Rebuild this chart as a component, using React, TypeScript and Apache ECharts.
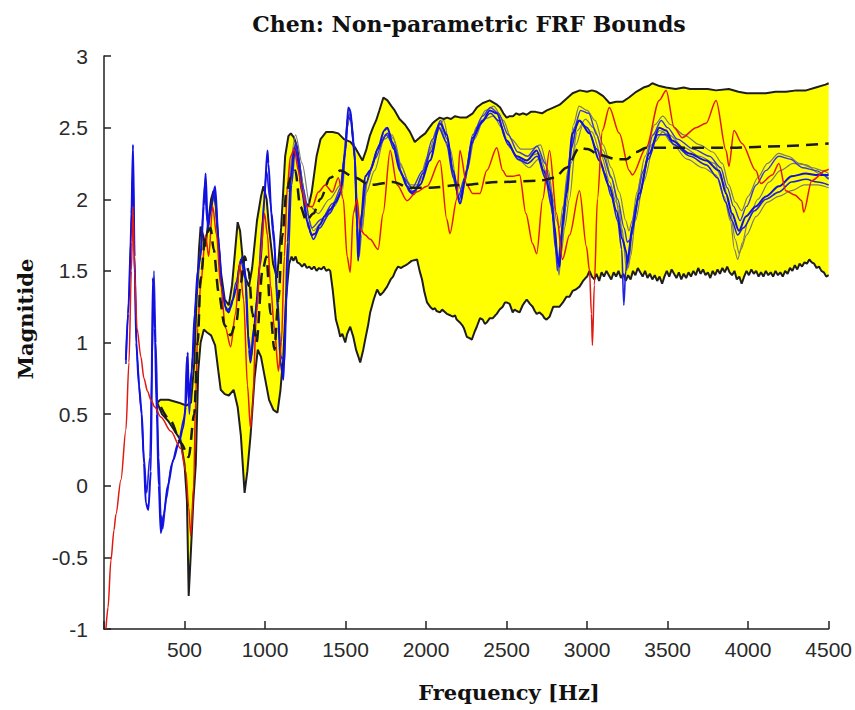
import React, { useEffect, useRef } from "react";
import * as echarts from "echarts";

type P = [number, number];

const titleText = "Chen: Non-parametric FRF Bounds";
const xName = "Frequency [Hz]";
const yName = "Magnitide";
const xTicks = [500, 1000, 1500, 2000, 2500, 3000, 3500, 4000, 4500];

const upperBound: P[] = [
  [330, 0.58], [350, 0.6], [400, 0.6], [465, 0.58], [510, 0.56], [540, 0.58], [560, 0.85], [575, 1.3], [590, 1.65],
  [600, 1.81], [615, 1.75], [630, 1.67], [645, 1.82], [665, 2.0], [680, 2.06], [695, 1.95], [710, 1.7], [725, 1.5],
  [750, 1.3], [775, 1.26], [795, 1.4], [815, 1.65], [830, 1.84], [845, 1.78], [860, 1.6], [880, 1.45], [900, 1.39],
  [920, 1.52], [950, 1.85], [975, 2.02], [990, 2.09], [1010, 2.0], [1025, 1.8], [1050, 1.55], [1075, 1.45], [1100, 1.8],
  [1125, 2.3], [1145, 2.44], [1160, 2.46], [1180, 2.43], [1200, 2.36], [1225, 2.15], [1250, 1.98], [1270, 1.95],
  [1290, 2.05], [1320, 2.3], [1345, 2.42], [1380, 2.47], [1420, 2.47], [1455, 2.46], [1490, 2.42], [1530, 2.4],
  [1560, 2.36], [1590, 2.3], [1605, 2.27], [1630, 2.35], [1650, 2.44], [1670, 2.5], [1690, 2.55], [1710, 2.62],
  [1735, 2.71], [1760, 2.69], [1785, 2.65], [1805, 2.62], [1835, 2.56], [1870, 2.52], [1900, 2.47], [1930, 2.4],
  [1960, 2.43], [1995, 2.46], [2020, 2.5], [2040, 2.53], [2060, 2.55], [2085, 2.57], [2110, 2.56], [2130, 2.57],
  [2155, 2.56], [2180, 2.58], [2215, 2.57], [2250, 2.57], [2290, 2.6], [2315, 2.64], [2350, 2.67], [2395, 2.69],
  [2440, 2.66], [2460, 2.64], [2480, 2.6], [2500, 2.57], [2520, 2.58], [2540, 2.58], [2560, 2.6], [2580, 2.59],
  [2600, 2.6], [2625, 2.59], [2650, 2.61], [2680, 2.61], [2720, 2.6], [2750, 2.62], [2790, 2.64], [2830, 2.66],
  [2870, 2.7], [2910, 2.74], [2955, 2.76], [3000, 2.75], [3030, 2.76], [3060, 2.75], [3100, 2.72], [3140, 2.67],
  [3180, 2.68], [3220, 2.68], [3260, 2.71], [3305, 2.75], [3350, 2.78], [3380, 2.79], [3405, 2.81], [3450, 2.79],
  [3490, 2.78], [3550, 2.77], [3600, 2.78], [3640, 2.77], [3680, 2.77], [3750, 2.77], [3800, 2.76], [3880, 2.77],
  [3940, 2.75], [3990, 2.74], [4050, 2.74], [4110, 2.74], [4170, 2.75], [4235, 2.75], [4300, 2.76], [4360, 2.76],
  [4420, 2.78], [4480, 2.8], [4500, 2.81],
];

const lowerBound: P[] = [
  [330, 0.58], [360, 0.5], [400, 0.45], [440, 0.38], [475, 0.32], [500, 0.15], [515, -0.1], [526, -0.77], [540, -0.45],
  [555, -0.1], [570, 0.15], [585, 0.8], [600, 1.0], [620, 1.09], [640, 1.07], [665, 1.05], [690, 0.98], [710, 0.8],
  [725, 0.67], [750, 0.64], [775, 0.63], [805, 0.67], [830, 0.55], [850, 0.35], [873, -0.05], [890, 0.1], [910, 0.35],
  [935, 0.75], [955, 0.95], [975, 0.9], [1000, 0.75], [1025, 0.6], [1052, 0.53], [1077, 0.51], [1096, 0.67],
  [1114, 0.91], [1130, 1.3], [1150, 1.55], [1165, 1.6], [1176, 1.57], [1190, 1.6], [1200, 1.56], [1215, 1.55],
  [1230, 1.53], [1245, 1.55], [1260, 1.52], [1275, 1.53], [1290, 1.51], [1305, 1.53], [1320, 1.5], [1335, 1.52],
  [1350, 1.51], [1365, 1.53], [1380, 1.5], [1395, 1.51], [1405, 1.5], [1420, 1.37], [1440, 1.16], [1455, 1.1],
  [1467, 1.04], [1480, 1.06], [1498, 1.0], [1510, 1.06], [1529, 1.11], [1548, 1.04], [1565, 0.95], [1580, 0.9],
  [1591, 0.86], [1610, 0.95], [1622, 1.02], [1640, 1.12], [1653, 1.21], [1675, 1.3], [1696, 1.37], [1715, 1.33],
  [1733, 1.35], [1758, 1.39], [1780, 1.44], [1795, 1.46], [1810, 1.5], [1826, 1.53], [1845, 1.52], [1857, 1.53],
  [1875, 1.54], [1888, 1.55], [1910, 1.57], [1944, 1.58], [1960, 1.5], [1975, 1.44], [1990, 1.35], [2006, 1.28],
  [2025, 1.25], [2043, 1.23], [2055, 1.24], [2065, 1.22], [2086, 1.21], [2100, 1.23], [2110, 1.22], [2129, 1.2],
  [2150, 1.19], [2167, 1.18], [2180, 1.19], [2190, 1.16], [2210, 1.14], [2225, 1.12], [2235, 1.1], [2253, 1.04],
  [2270, 1.03], [2284, 1.02], [2300, 1.07], [2315, 1.11], [2335, 1.17], [2352, 1.16], [2365, 1.13], [2377, 1.14],
  [2396, 1.17], [2415, 1.17], [2430, 1.19], [2439, 1.2], [2457, 1.23], [2476, 1.25], [2490, 1.28], [2500, 1.28],
  [2519, 1.27], [2538, 1.21], [2550, 1.23], [2563, 1.22], [2581, 1.21], [2600, 1.26], [2612, 1.28], [2625, 1.3],
  [2645, 1.27], [2662, 1.25], [2675, 1.22], [2687, 1.2], [2705, 1.21], [2724, 1.19], [2735, 1.17], [2748, 1.16],
  [2767, 1.18], [2790, 1.25], [2810, 1.25], [2829, 1.25], [2850, 1.28], [2872, 1.32], [2891, 1.32], [2910, 1.36],
  [2930, 1.37], [2953, 1.39], [2975, 1.43], [2990, 1.45], [3000, 1.46], [3015, 1.5], [3030, 1.46], [3045, 1.44],
  [3058, 1.48], [3075, 1.43], [3090, 1.49], [3105, 1.46], [3120, 1.5], [3135, 1.47], [3150, 1.44], [3165, 1.49],
  [3180, 1.46], [3195, 1.5], [3210, 1.45], [3225, 1.48], [3240, 1.43], [3255, 1.47], [3270, 1.44], [3285, 1.5],
  [3300, 1.47], [3315, 1.52], [3330, 1.49], [3345, 1.46], [3360, 1.5], [3375, 1.45], [3390, 1.48], [3405, 1.44],
  [3420, 1.47], [3435, 1.43], [3450, 1.46], [3466, 1.41], [3480, 1.46], [3495, 1.5], [3510, 1.46], [3525, 1.51],
  [3540, 1.48], [3555, 1.45], [3570, 1.49], [3585, 1.44], [3600, 1.48], [3615, 1.45], [3630, 1.49], [3645, 1.46],
  [3660, 1.5], [3675, 1.47], [3690, 1.52], [3705, 1.48], [3720, 1.51], [3735, 1.47], [3750, 1.49], [3765, 1.45],
  [3780, 1.5], [3795, 1.47], [3810, 1.51], [3825, 1.48], [3840, 1.52], [3855, 1.49], [3870, 1.53], [3885, 1.49],
  [3900, 1.47], [3915, 1.5], [3930, 1.44], [3945, 1.46], [3960, 1.41], [3975, 1.46], [3990, 1.5], [4005, 1.47],
  [4020, 1.51], [4035, 1.48], [4050, 1.5], [4065, 1.46], [4080, 1.49], [4095, 1.46], [4110, 1.5], [4125, 1.47],
  [4140, 1.49], [4155, 1.46], [4170, 1.5], [4185, 1.47], [4200, 1.49], [4215, 1.46], [4230, 1.5], [4245, 1.48],
  [4260, 1.52], [4275, 1.5], [4290, 1.54], [4305, 1.51], [4320, 1.55], [4335, 1.53], [4350, 1.56], [4365, 1.55],
  [4380, 1.58], [4395, 1.56], [4410, 1.55], [4425, 1.52], [4440, 1.53], [4455, 1.5], [4470, 1.49], [4485, 1.46],
  [4500, 1.47],
];

const nominalDashed: P[] = [
  [353, 0.55], [415, 0.45], [477, 0.3], [526, 0.2], [560, 0.5], [582, 1.0], [600, 1.45], [631, 1.75], [662, 1.8],
  [681, 1.65], [712, 1.35], [749, 1.12], [786, 1.05], [823, 1.15], [848, 1.4], [873, 1.6], [898, 1.5], [922, 1.2],
  [947, 1.0], [984, 1.5], [1009, 1.6], [1034, 1.2], [1058, 0.95], [1083, 1.3], [1108, 1.75], [1133, 2.05],
  [1158, 2.15], [1188, 2.2], [1219, 1.95], [1257, 1.85], [1300, 1.9], [1343, 2.0], [1405, 2.15], [1467, 2.2],
  [1560, 2.15], [1653, 2.1], [1795, 2.12], [1900, 2.08], [2024, 2.08], [2210, 2.1], [2457, 2.12], [2705, 2.13],
  [2798, 2.15], [2872, 2.22], [2953, 2.36], [3002, 2.35], [3076, 2.31], [3182, 2.28], [3244, 2.28], [3305, 2.33],
  [3367, 2.36], [3600, 2.36], [3900, 2.36], [4200, 2.37], [4500, 2.39],
];

const redMeasured: P[] = [
  [12, -1.0], [25, -0.85], [43, -0.52], [62, -0.31], [74, -0.2], [105, 0.04], [136, 0.39], [155, 0.86], [170, 1.5],
  [180, 1.95], [190, 1.5], [205, 1.1], [229, 0.9], [248, 0.75], [270, 0.66], [291, 0.6], [315, 0.55], [353, 0.48],
  [415, 0.38], [477, 0.26], [508, 0.1], [526, -0.15], [539, -0.35], [557, 0.0], [569, 0.6], [582, 1.1], [600, 1.4],
  [631, 1.75], [650, 1.6], [675, 1.95], [699, 1.75], [724, 1.4], [755, 1.1], [786, 0.97], [817, 1.2], [842, 1.55],
  [867, 1.3], [891, 0.7], [910, 0.4], [922, 0.55], [947, 1.2], [972, 1.6], [997, 1.9], [1015, 1.75], [1034, 1.4],
  [1058, 1.1], [1083, 0.8], [1102, 1.0], [1120, 1.6], [1139, 2.1], [1158, 2.3], [1182, 2.35], [1207, 2.2],
  [1232, 2.05], [1257, 1.95], [1294, 1.95], [1331, 2.05], [1374, 2.1], [1418, 2.05], [1455, 2.15], [1486, 2.0],
  [1510, 1.6], [1529, 1.49], [1548, 1.9], [1572, 2.0], [1591, 1.79], [1622, 1.75], [1653, 1.72], [1702, 1.65],
  [1733, 1.9], [1777, 2.34], [1820, 2.1], [1882, 1.99], [1940, 2.05], [2006, 2.09], [2086, 2.27], [2129, 1.86],
  [2148, 1.76], [2191, 2.0], [2210, 2.34], [2253, 2.1], [2290, 2.04], [2334, 2.04], [2377, 2.2], [2439, 2.36],
  [2476, 2.2], [2501, 2.16], [2538, 2.16], [2581, 2.17], [2620, 1.9], [2662, 1.69], [2687, 1.62], [2724, 2.0],
  [2767, 2.34], [2810, 1.9], [2847, 1.58], [2891, 1.75], [2953, 2.06], [2996, 1.67], [3015, 1.5], [3027, 1.2],
  [3033, 0.98], [3045, 1.4], [3064, 2.0], [3095, 2.48], [3138, 2.64], [3200, 2.46], [3262, 2.2], [3281, 2.17],
  [3367, 2.36], [3448, 2.69], [3491, 2.76], [3541, 2.5], [3590, 2.43], [3677, 2.5], [3739, 2.53], [3801, 2.69],
  [3863, 2.34], [3881, 2.23], [3912, 2.48], [3962, 2.39], [4048, 2.2], [4079, 2.11], [4150, 2.17], [4191, 2.25],
  [4234, 2.06], [4290, 2.03], [4333, 1.99], [4345, 1.91], [4395, 2.13], [4482, 2.2], [4500, 2.21],
];

const blueA: P[] = [
  [136, 0.88], [150, 1.2], [167, 1.7], [180, 2.38], [190, 1.6], [200, 1.0], [217, 0.7], [235, 0.5], [248, 0.16],
  [260, -0.12], [275, -0.17], [291, 0.1], [303, 1.45], [315, 1.1], [328, 0.5], [340, 0.0], [353, -0.33], [371, -0.2],
  [396, 0.0], [430, 0.18], [465, 0.3], [490, 0.4], [508, 0.55], [520, 0.93], [526, 0.6], [545, 0.8], [563, 1.2],
  [582, 1.5], [600, 1.6], [620, 1.95], [631, 2.18], [645, 1.79], [665, 1.95], [690, 2.09], [712, 1.7], [735, 1.35],
  [755, 1.25], [774, 1.21], [800, 1.3], [820, 1.37], [845, 1.55], [862, 1.6], [880, 1.44], [900, 0.95], [910, 0.86],
  [930, 1.1], [972, 1.55], [995, 2.0], [1015, 2.34], [1021, 2.25], [1040, 1.9], [1052, 1.79], [1077, 1.32],
  [1096, 0.86], [1114, 0.74], [1125, 1.1], [1140, 1.7], [1160, 2.15], [1182, 2.36], [1200, 2.3], [1230, 2.05],
  [1260, 1.85], [1290, 1.75], [1310, 1.76], [1340, 1.82], [1370, 1.88], [1405, 1.93], [1440, 1.98], [1470, 2.05],
  [1500, 2.35], [1517, 2.64], [1530, 2.62], [1548, 2.4], [1560, 2.27], [1572, 1.8], [1578, 1.57], [1595, 1.85],
  [1622, 2.16], [1653, 2.2], [1700, 2.35], [1740, 2.48], [1760, 2.5], [1790, 2.4], [1838, 2.2], [1882, 2.09],
  [1913, 2.04], [1962, 2.1], [2024, 2.27], [2086, 2.53], [2129, 2.45], [2167, 2.2], [2210, 1.97], [2253, 2.2],
  [2290, 2.43], [2352, 2.55], [2396, 2.62], [2439, 2.6], [2501, 2.41], [2563, 2.3], [2625, 2.27], [2687, 2.34],
  [2730, 2.2], [2770, 2.06], [2798, 1.81], [2816, 1.6], [2829, 1.53], [2847, 1.81], [2872, 2.04], [2909, 2.46],
  [2953, 2.55], [3015, 2.46], [3076, 2.27], [3138, 2.09], [3182, 1.92], [3219, 1.72], [3244, 1.63], [3250, 1.55],
  [3281, 1.81], [3324, 2.04], [3386, 2.32], [3448, 2.5], [3491, 2.48], [3528, 2.41], [3634, 2.32], [3739, 2.27],
  [3819, 2.2], [3863, 2.04], [3900, 1.9], [3943, 1.78], [3986, 1.88], [4048, 1.95], [4110, 2.02], [4191, 2.09],
  [4271, 2.16], [4358, 2.18], [4420, 2.17], [4500, 2.17],
];

const blueB: P[] = [
  [136, 0.85], [155, 1.3], [170, 1.9], [180, 2.2], [192, 1.4], [205, 0.9], [229, 0.55], [248, 0.2], [265, -0.05],
  [285, 0.2], [300, 0.9], [310, 1.5], [322, 1.0], [340, 0.2], [353, -0.2], [365, -0.3], [385, -0.1], [420, 0.15],
  [460, 0.3], [500, 0.48], [514, 0.9], [530, 0.5], [550, 0.9], [575, 1.35], [600, 1.65], [625, 2.1], [640, 1.85],
  [660, 1.9], [685, 2.05], [705, 1.8], [730, 1.4], [760, 1.22], [790, 1.25], [820, 1.42], [850, 1.58], [875, 1.45],
  [895, 1.05], [915, 0.9], [950, 1.3], [985, 1.85], [1009, 2.2], [1030, 2.0], [1055, 1.7], [1080, 1.2], [1100, 0.9],
  [1120, 0.85], [1140, 1.5], [1165, 2.1], [1190, 2.4], [1210, 2.28], [1240, 2.0], [1270, 1.8], [1300, 1.72],
  [1340, 1.8], [1400, 1.9], [1460, 2.02], [1495, 2.3], [1515, 2.58], [1535, 2.55], [1555, 2.3], [1570, 1.85],
  [1580, 1.62], [1600, 1.9], [1630, 2.12], [1660, 2.22], [1710, 2.38], [1760, 2.46], [1800, 2.35], [1850, 2.17],
  [1900, 2.05], [1930, 2.06], [1980, 2.18], [2030, 2.33], [2080, 2.5], [2125, 2.4], [2170, 2.15], [2205, 2.0],
  [2240, 2.12], [2280, 2.38], [2330, 2.52], [2400, 2.6], [2450, 2.55], [2510, 2.38], [2570, 2.28], [2630, 2.25],
  [2690, 2.3], [2740, 2.15], [2780, 1.95], [2805, 1.65], [2820, 1.55], [2840, 1.75], [2865, 2.0], [2900, 2.35],
  [2945, 2.55], [3000, 2.5], [3060, 2.35], [3110, 2.18], [3150, 2.02], [3190, 1.85], [3215, 1.65], [3228, 1.26],
  [3240, 1.5], [3255, 1.6], [3275, 1.75], [3320, 2.0], [3380, 2.28], [3440, 2.45], [3490, 2.45], [3540, 2.38],
  [3640, 2.3], [3740, 2.24], [3810, 2.15], [3860, 1.98], [3900, 1.85], [3935, 1.75], [3970, 1.8], [4040, 1.92],
  [4110, 2.0], [4190, 2.05], [4270, 2.12], [4360, 2.14], [4430, 2.12], [4500, 2.1],
];

const blueC: P[] = [
  [1150, 2.05], [1190, 2.33], [1230, 2.1], [1290, 1.8], [1350, 1.86], [1420, 1.97], [1480, 2.1], [1510, 2.55],
  [1530, 2.6], [1555, 2.35], [1575, 1.7], [1590, 1.75], [1625, 2.1], [1680, 2.28], [1750, 2.45], [1800, 2.38],
  [1860, 2.15], [1913, 2.08], [1980, 2.2], [2040, 2.42], [2090, 2.55], [2130, 2.42], [2175, 2.15], [2200, 2.02],
  [2240, 2.15], [2290, 2.45], [2350, 2.58], [2400, 2.64], [2450, 2.6], [2510, 2.45], [2570, 2.33], [2630, 2.3],
  [2690, 2.37], [2740, 2.25], [2780, 2.05], [2800, 1.75], [2815, 1.5], [2830, 1.6], [2850, 1.9], [2880, 2.15],
  [2920, 2.5], [2960, 2.62], [3010, 2.6], [3060, 2.45], [3100, 2.3], [3150, 2.15], [3190, 2.0], [3230, 1.8],
  [3250, 1.7], [3270, 1.72], [3300, 1.95], [3350, 2.2], [3410, 2.45], [3460, 2.55], [3500, 2.5], [3560, 2.42],
  [3660, 2.35], [3760, 2.3], [3830, 2.22], [3870, 2.08], [3910, 1.95], [3950, 1.85], [3990, 1.95], [4050, 2.1],
  [4110, 2.2], [4190, 2.3], [4260, 2.28], [4340, 2.22], [4420, 2.2], [4500, 2.14],
];

const grayA: P[] = [
  [1150, 2.1], [1185, 2.38], [1220, 2.2], [1260, 1.9], [1300, 1.78], [1360, 1.85], [1430, 1.95], [1480, 2.05],
  [1510, 2.5], [1528, 2.57], [1550, 2.4], [1568, 1.95], [1585, 1.6], [1600, 1.75], [1630, 2.05], [1680, 2.2],
  [1740, 2.42], [1790, 2.45], [1840, 2.25], [1890, 2.12], [1925, 2.03], [1975, 2.15], [2030, 2.36], [2090, 2.5],
  [2140, 2.35], [2180, 2.1], [2215, 1.97], [2255, 2.2], [2300, 2.42], [2360, 2.56], [2420, 2.58], [2470, 2.5],
  [2520, 2.36], [2580, 2.27], [2640, 2.22], [2700, 2.28], [2750, 2.12], [2785, 1.9], [2805, 1.68], [2825, 1.5],
  [2840, 1.62], [2860, 1.8], [2890, 2.0], [2930, 2.38], [2975, 2.52], [3030, 2.47], [3090, 2.3], [3140, 2.12],
  [3180, 1.98], [3215, 1.8], [3240, 1.62], [3255, 1.52], [3270, 1.6], [3300, 1.85], [3350, 2.12], [3420, 2.4],
  [3470, 2.47], [3520, 2.4], [3620, 2.28], [3720, 2.22], [3800, 2.17], [3850, 2.02], [3890, 1.85], [3915, 1.65],
  [3935, 1.58], [3955, 1.65], [3990, 1.75], [4050, 1.88], [4120, 1.98], [4190, 2.02], [4270, 2.06], [4350, 2.1],
  [4430, 2.1], [4500, 2.08],
];

const grayB: P[] = [
  [1150, 2.12], [1190, 2.45], [1230, 2.25], [1280, 1.95], [1330, 1.9], [1400, 2.0], [1470, 2.1], [1505, 2.45],
  [1525, 2.62], [1545, 2.5], [1565, 2.1], [1580, 1.75], [1600, 1.8], [1640, 2.15], [1700, 2.35], [1750, 2.5],
  [1800, 2.42], [1850, 2.22], [1900, 2.1], [1950, 2.1], [2010, 2.3], [2070, 2.5], [2110, 2.55], [2150, 2.35],
  [2190, 2.12], [2225, 2.05], [2265, 2.28], [2310, 2.5], [2370, 2.62], [2420, 2.65], [2480, 2.55], [2530, 2.42],
  [2590, 2.35], [2650, 2.35], [2710, 2.38], [2760, 2.2], [2790, 2.0], [2810, 1.85], [2830, 1.8], [2850, 1.95],
  [2880, 2.2], [2915, 2.52], [2950, 2.65], [3000, 2.62], [3050, 2.55], [3100, 2.38], [3150, 2.22], [3200, 2.05],
  [3240, 1.85], [3260, 1.78], [3280, 1.85], [3310, 2.05], [3360, 2.3], [3420, 2.52], [3470, 2.58], [3520, 2.52],
  [3600, 2.45], [3700, 2.38], [3780, 2.33], [3840, 2.25], [3880, 2.1], [3920, 1.98], [3960, 1.92], [4000, 2.02],
  [4060, 2.15], [4120, 2.25], [4190, 2.32], [4250, 2.3], [4320, 2.25], [4400, 2.22], [4460, 2.2], [4500, 2.18],
];

const grayC: P[] = [
  [2650, 2.3], [2700, 2.32], [2750, 2.18], [2790, 1.95], [2812, 1.58], [2826, 1.47], [2842, 1.7], [2870, 1.95],
  [2900, 2.25], [2940, 2.48], [2990, 2.56], [3040, 2.5], [3100, 2.34], [3150, 2.16], [3195, 1.95], [3225, 1.7],
  [3245, 1.5], [3262, 1.58], [3290, 1.9], [3340, 2.18], [3400, 2.38], [3450, 2.48], [3510, 2.45], [3600, 2.36],
  [3700, 2.3], [3790, 2.25], [3845, 2.12], [3885, 1.95], [3920, 1.72], [3945, 1.62], [3965, 1.7], [4000, 1.85],
  [4060, 2.0], [4130, 2.12], [4200, 2.2], [4280, 2.25], [4360, 2.24], [4440, 2.18], [4500, 2.15],
];

const titleFont = "bold 22px 'DejaVu Serif', serif";
const nameFont = "bold 21px 'DejaVu Serif', serif";

function lineSeries(data: P[], color: string, width: number, z: number, smooth: number | boolean = 0.3, type: any = "solid") {
  return {
    type: "line",
    data,
    symbol: "none",
    showSymbol: false,
    smooth,
    smoothMonotone: "x",
    silent: true,
    z,
    lineStyle: { color, width, type },
  };
}

export default function App() {
  const ref = useRef<HTMLDivElement>(null);
  useEffect(() => {
    document.body.style.margin = "0";
    if (!ref.current) return;
    const chart = echarts.init(ref.current, undefined, { renderer: "svg" });
    const option: any = {
      animation: false,
      backgroundColor: "#ffffff",
      grid: { left: 104, right: 25, top: 56, bottom: 81 },
      xAxis: {
        type: "value",
        min: 0,
        max: 4500,
        interval: 500,
        axisLine: { show: true, onZero: false, lineStyle: { color: "#222", width: 1.5 } },
        axisTick: { show: true, inside: true, length: 8, lineStyle: { color: "#222", width: 1.5 } },
        axisLabel: {
          margin: 10,
          fontSize: 21,
          color: "#2a2a2a",
          fontFamily: "'Liberation Sans', Arial, sans-serif",
          formatter: (v: number) => (xTicks.indexOf(v) >= 0 ? String(v) : ""),
        },
        splitLine: { show: false },
      },
      yAxis: {
        type: "value",
        min: -1,
        max: 3,
        interval: 0.5,
        axisLine: { show: true, onZero: false, lineStyle: { color: "#222", width: 1.5 } },
        axisTick: { show: true, inside: true, length: 7, lineStyle: { color: "#222", width: 1.5 } },
        axisLabel: {
          margin: 16,
          fontSize: 21,
          color: "#2a2a2a",
          fontFamily: "'Liberation Sans', Arial, sans-serif",
        },
        splitLine: { show: false },
      },
      graphic: [
        {
          type: "text",
          x: 469,
          y: 24,
          style: { text: titleText, font: titleFont, fill: "#111", textAlign: "center", textVerticalAlign: "middle" },
        },
        {
          type: "text",
          x: 509,
          y: 692,
          style: { text: xName, font: nameFont, fill: "#111", textAlign: "center", textVerticalAlign: "middle" },
        },
        {
          type: "text",
          x: 25,
          y: 319,
          rotation: Math.PI / 2,
          style: { text: yName, font: nameFont, fill: "#111", textAlign: "center", textVerticalAlign: "middle" },
        },
      ],
      series: [
        {
          type: "custom",
          data: [[0, 0]],
          silent: true,
          clip: true,
          z: 1,
          renderItem: (_params: any, api: any) => {
            const pts: number[][] = [];
            for (const p of upperBound) pts.push(api.coord(p));
            for (let i = lowerBound.length - 1; i >= 0; i--) pts.push(api.coord(lowerBound[i]));
            return { type: "polygon", shape: { points: pts }, style: { fill: "#ffff00", stroke: "none" } };
          },
        },
        lineSeries(upperBound, "#1e1e1e", 2, 2, false),
        lineSeries(lowerBound, "#1e1e1e", 2, 2, false),
        lineSeries(grayA, "#7c7c6c", 1.2, 3),
        lineSeries(grayB, "#7c7c6c", 1.2, 3),
        lineSeries(grayC, "#7c7c6c", 1.2, 3),
        lineSeries(blueC, "#3a3ad8", 1.4, 4),
        lineSeries(blueB, "#2222e0", 1.6, 4),
        lineSeries(blueA, "#1010e0", 2, 5),
        lineSeries(redMeasured, "#e01a10", 1.5, 6),
        lineSeries(nominalDashed, "#1a1a1a", 2.5, 7, 0.3, [12, 7]),
      ],
    };
    chart.setOption(option);
    return () => chart.dispose();
  }, []);
  return <div ref={ref} style={{ width: 855, height: 710 }} />;
}
